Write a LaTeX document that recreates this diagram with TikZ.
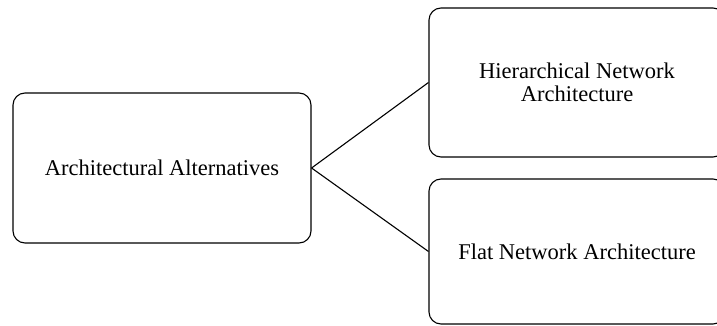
\documentclass[tikz,border=0pt]{standalone}
\usepackage{fontspec}
\setmainfont{Liberation Serif}
\begin{document}
\begin{tikzpicture}[x=1pt,y=-1pt,
  box/.style={draw=black, line width=1.1pt, rounded corners=12pt, fill=white,
    align=center, inner sep=0pt, font=\fontsize{22.5}{23}\selectfont},
  link/.style={draw=black, line width=1.1pt}]
  \useasboundingbox (0,0) rectangle (717,326);
  \node[box, minimum width=298pt, minimum height=150pt] (alt) at (162,168) {Architectural Alternatives};
  \node[box, minimum width=296pt, minimum height=149pt] (hier) at (577,82.5) {Hierarchical Network\\Architecture};
  \node[box, minimum width=296pt, minimum height=145pt] (flat) at (577,251.5) {Flat Network Architecture};
  \draw[link] (alt.east) -- (hier.west);
  \draw[link] (alt.east) -- (flat.west);
\end{tikzpicture}
\end{document}
